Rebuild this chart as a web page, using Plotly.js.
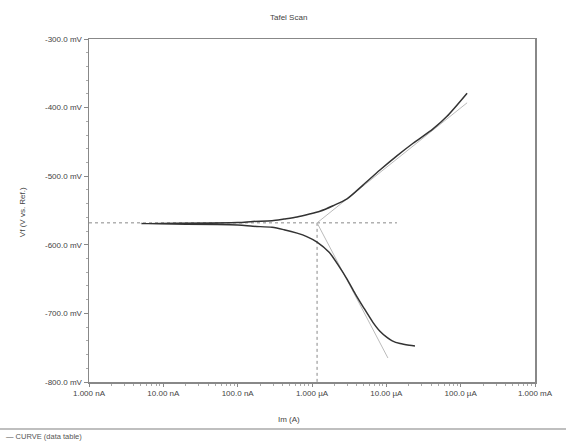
<!DOCTYPE html>
<html>
<head>
<meta charset="utf-8">
<script src="https://cdn.plot.ly/plotly-3.0.1.min.js"></script>
<style>html,body{margin:0;padding:0;background:#fff;}#chart{width:566px;height:442px;}</style>
</head>
<body>
<div id="chart"></div>
<script>
// Measured curve: |I| (A) and Vf (mV), in scan order
const curveI = [2.43e-5, 2.05e-5, 1.53e-5, 1.2e-5, 1.02e-5, 8.2e-6, 6.6e-6, 4.85e-6, 3.8e-6, 2.96e-6, 2.3e-6, 1.7e-6, 1.17e-6, 8.5e-7, 6.3e-7, 4.2e-7, 2.9e-7,
                1.6e-7, 1.0e-7, 5e-9, 1.0e-7, 1.6e-7, 2.9e-7,
                4.2e-7, 6.3e-7, 9e-7, 1.28e-6, 1.92e-6, 2.96e-6, 4.85e-6, 8.2e-6, 1.4e-5, 2.29e-5, 4.25e-5, 6.5e-5, 1.22e-4];
const curveE = [-747.5, -746.5, -744, -740, -735, -726, -713, -690, -671, -650, -631, -611, -596, -588, -583, -578, -574.5,
                -573, -571, -569, -567.5, -566, -565,
                -562.5, -559.5, -555.5, -551, -543, -533, -513, -491, -470, -452, -431, -413, -379];
// Tafel fit lines
const anodicFitI = [1.17e-6, 1.22e-4];
const anodicFitE = [-568, -393];
const cathodicFitI = [1.17e-6, 1.05e-5];
const cathodicFitE = [-568, -765];
// Ecorr / Icorr markers
const ecorrI = [1e-9, 1.39e-5];
const ecorrE = [-568, -568];
const icorrI = [1.17e-6, 1.17e-6];
const icorrE = [-568, -800];
// Axis ticks
const xTickVals = [1e-9, 1e-8, 1e-7, 1e-6, 1e-5, 1e-4, 1e-3];
const xTickText = ['1.000 nA', '10.00 nA', '100.0 nA', '1.000 µA', '10.00 µA', '100.0 µA', '1.000 mA'];
const yTickVals = [-800, -700, -600, -500, -400, -300];
const yTickText = ['-800.0 mV', '-700.0 mV', '-600.0 mV', '-500.0 mV', '-400.0 mV', '-300.0 mV'];
const xMinor = [];
for (let d = -9; d < -3; d++) { for (let m = 2; m <= 9; m++) xMinor.push(m * Math.pow(10, d)); }

const font = {family: 'Liberation Sans, Arial, sans-serif', size: 8, color: '#444'};

const traces = [
  {x: ecorrI, y: ecorrE, mode: 'lines', line: {color: '#888', width: 1, dash: '3px,3px'}, hoverinfo: 'skip'},
  {x: icorrI, y: icorrE, mode: 'lines', line: {color: '#888', width: 1, dash: '3px,3px'}, hoverinfo: 'skip'},
  {x: anodicFitI, y: anodicFitE, mode: 'lines', line: {color: '#bbb', width: 1}},
  {x: cathodicFitI, y: cathodicFitE, mode: 'lines', line: {color: '#bbb', width: 1}},
  {x: curveI, y: curveE, mode: 'lines', line: {color: '#333', width: 1.5, shape: 'spline', smoothing: 0.8}, name: 'CURVE'}
];

const layout = {
  width: 566, height: 442,
  margin: {l: 89, r: 31, t: 39, b: 60},
  paper_bgcolor: '#fff', plot_bgcolor: '#fff',
  showlegend: false,
  font: font,
  title: {text: 'Tafel Scan', x: 0.51, xref: 'container', y: 0.96, yref: 'container', yanchor: 'middle', font: {family: font.family, size: 8, color: '#444'}},
  xaxis: {
    type: 'log', range: [-9, -3],
    tickmode: 'array', tickvals: xTickVals, ticktext: xTickText,
    ticks: 'outside', ticklen: 3, tickcolor: '#888',
    minor: {tickmode: 'array', tickvals: xMinor, ticks: 'outside', ticklen: 2, tickcolor: '#aaa'},
    showline: true, linecolor: '#888', linewidth: 1.5, mirror: true,
    showgrid: false, zeroline: false, tickfont: font
  },
  yaxis: {
    range: [-800, -300],
    tickmode: 'array', tickvals: yTickVals, ticktext: yTickText,
    ticks: 'outside', ticklen: 4, tickcolor: '#888',
    minor: {dtick: 20, tick0: -800, ticks: 'outside', ticklen: 2, tickcolor: '#aaa'},
    showline: true, linecolor: '#888', linewidth: 1.5, mirror: true,
    showgrid: false, zeroline: false, tickfont: font
  },
  annotations: [
    {text: 'Im (A)', xref: 'paper', yref: 'paper', x: 0.448, y: -0.11, showarrow: false, font: font, yanchor: 'middle'},
    {text: 'Vf (V vs. Ref.)', xref: 'paper', yref: 'paper', x: -0.165, y: 0.495, textangle: -90, showarrow: false, font: font},
    {text: '— CURVE (data table)', xref: 'paper', yref: 'paper', x: -0.19, y: -0.16, xanchor: 'left', yanchor: 'middle', showarrow: false, font: {family: font.family, size: 7.5, color: '#555'}}
  ],
  shapes: [
    {type: 'line', xref: 'paper', yref: 'paper', x0: -0.2, x1: 1.07, y0: -0.137, y1: -0.137, line: {color: '#aaa', width: 1.5}}
  ]
};

Plotly.newPlot('chart', traces, layout, {displayModeBar: false, staticPlot: true});
</script>
</body>
</html>
